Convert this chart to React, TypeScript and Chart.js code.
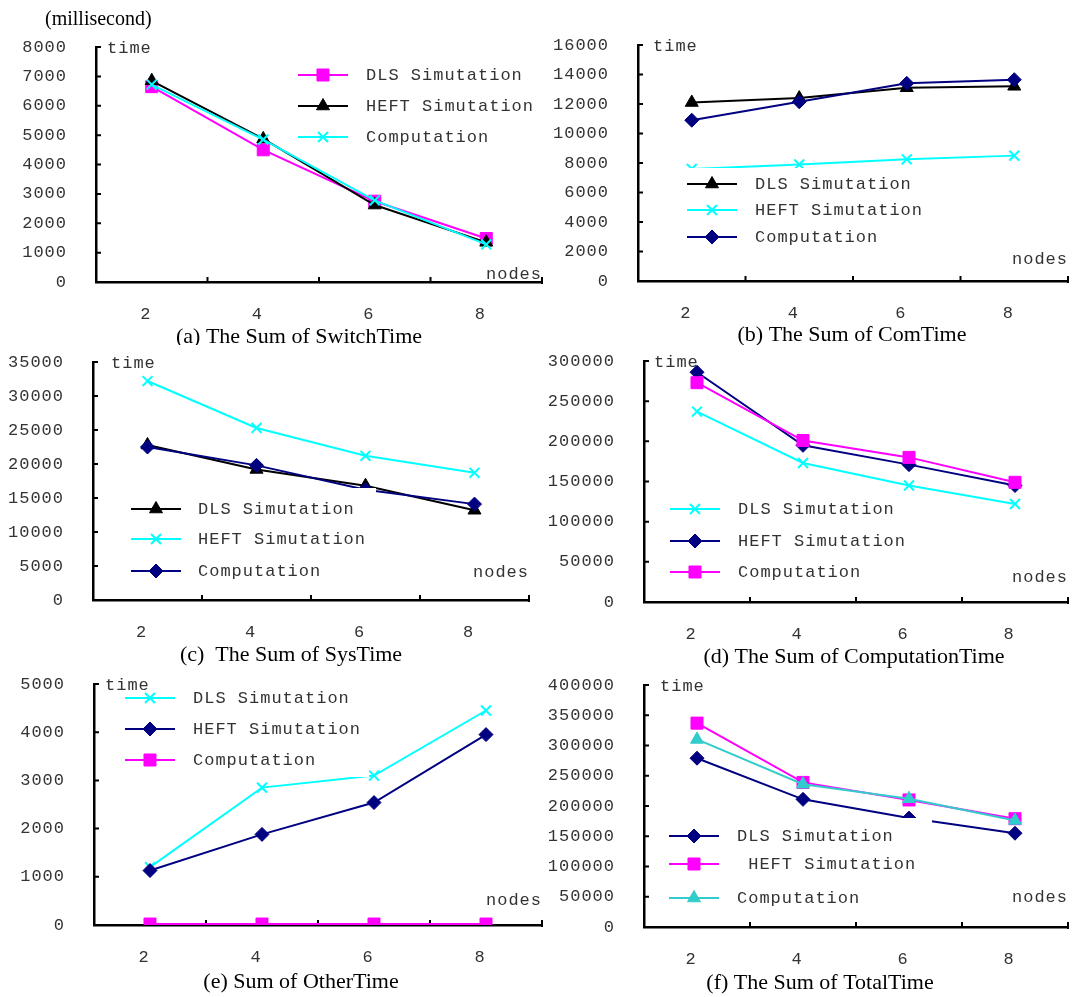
import React, { useEffect, useRef } from 'react';
import { Chart, registerables } from 'chart.js';

Chart.register(...registerables);

// ---------- data ----------
const nodeLabels = ['2', '4', '6', '8'];

const switchDLS = [6650, 4500, 2750, 1480];
const switchHEFT = [6850, 4870, 2620, 1350];
const switchComp = [6720, 4850, 2780, 1280];

const comDLS = [12100, 12400, 13100, 13200];
const comHEFT = [7600, 7900, 8250, 8500];
const comComp = [10900, 12150, 13400, 13650];

const sysDLS = [22800, 19200, 16800, 13200];
const sysHEFT = [32200, 25300, 21200, 18700];
const sysComp = [22500, 19800, 16200, 14100];

const compDLS = [237000, 173000, 145000, 122000];
const compHEFT = [286000, 195000, 171000, 145000];
const compComp = [273000, 201000, 180000, 149000];

const otherDLS = [1200, 2850, 3100, 4450];
const otherHEFT = [1130, 1880, 2540, 3950];
const otherComp = [20, 20, 20, 20];

const totalDLS = [279000, 211000, 180000, 155000];
const totalHEFT = [337000, 239000, 210000, 179000];
const totalComp = [310000, 236000, 212000, 176000];

const yMaxes = [8000, 16000, 35000, 300000, 5000, 400000];
const ySteps = [1000, 2000, 5000, 50000, 1000, 50000];

const titles = [
  '(a) The Sum of SwitchTime',
  '(b) The Sum of ComTime',
  '(c)  The Sum of SysTime',
  '(d) The Sum of ComputationTime',
  '(e) Sum of OtherTime',
  '(f) The Sum of TotalTime',
];

// ---------- styles ----------
const MAGENTA = '#FF00FF';
const BLACK = '#000000';
const CYAN = '#00FFFF';
const NAVY = '#000080';
const TEAL = '#33CCCC';
const TEXT = '#333333';
const MONO_FAMILY = "'Liberation Mono', monospace";
const MONO = "17px 'Liberation Mono', monospace";
const SERIF_TITLE = "22px 'Liberation Serif', serif";
const SERIF_UNIT = "20px 'Liberation Serif', serif";

type Mark = { style: string; radius: number };
const SQUARE: Mark = { style: 'rect', radius: 8.5 };
const TRI: Mark = { style: 'triangle', radius: 7.5 };
const XMARK: Mark = { style: 'crossRot', radius: 7 };
const DIAMOND: Mark = { style: 'rectRot', radius: 7 };

type Series = { name: string; data: number[]; color: string; mark: Mark };
type Panel = {
  key: string;
  region: [number, number, number, number];
  area: [number, number, number, number];
  series: Series[];
  legend: { lineX: number; textX: number; rows: number[]; box: [number, number, number, number] };
  timeX: number;
  nodesY: number;
  titleX: number;
  titleY: number;
  unit?: boolean;
};

const panels: Panel[] = [
  {
    key: 'a', region: [0, 0, 548, 345], area: [96, 47, 542, 282],
    series: [
      { name: 'DLS Simutation', data: switchDLS, color: MAGENTA, mark: SQUARE },
      { name: 'HEFT Simutation', data: switchHEFT, color: BLACK, mark: TRI },
      { name: 'Computation', data: switchComp, color: CYAN, mark: XMARK },
    ],
    legend: { lineX: 298, textX: 366, rows: [75, 106, 137], box: [292, 58, 540, 154] },
    timeX: 107, nodesY: 274, titleX: 299, titleY: 337, unit: true,
  },
  {
    key: 'b', region: [548, 0, 524, 345], area: [638, 45, 1068, 281],
    series: [
      { name: 'DLS Simutation', data: comDLS, color: BLACK, mark: TRI },
      { name: 'HEFT Simutation', data: comHEFT, color: CYAN, mark: XMARK },
      { name: 'Computation', data: comComp, color: NAVY, mark: DIAMOND },
    ],
    legend: { lineX: 687, textX: 755, rows: [184, 210, 237], box: [681, 168, 935, 254] },
    timeX: 653, nodesY: 259, titleX: 852, titleY: 335,
  },
  {
    key: 'c', region: [0, 345, 548, 323], area: [93, 362, 529, 600],
    series: [
      { name: 'DLS Simutation', data: sysDLS, color: BLACK, mark: TRI },
      { name: 'HEFT Simutation', data: sysHEFT, color: CYAN, mark: XMARK },
      { name: 'Computation', data: sysComp, color: NAVY, mark: DIAMOND },
    ],
    legend: { lineX: 131, textX: 198, rows: [509, 539, 571], box: [125, 488, 376, 590] },
    timeX: 111, nodesY: 572, titleX: 291, titleY: 655,
  },
  {
    key: 'd', region: [548, 345, 524, 323], area: [644, 361, 1068, 602],
    series: [
      { name: 'DLS Simutation', data: compDLS, color: CYAN, mark: XMARK },
      { name: 'HEFT Simutation', data: compHEFT, color: NAVY, mark: DIAMOND },
      { name: 'Computation', data: compComp, color: MAGENTA, mark: SQUARE },
    ],
    legend: { lineX: 670, textX: 738, rows: [509, 541, 572], box: [664, 491, 930, 590] },
    timeX: 654, nodesY: 577, titleX: 854, titleY: 657,
  },
  {
    key: 'e', region: [0, 668, 548, 329], area: [94, 684, 542, 925],
    series: [
      { name: 'DLS Simutation', data: otherDLS, color: CYAN, mark: XMARK },
      { name: 'HEFT Simutation', data: otherHEFT, color: NAVY, mark: DIAMOND },
      { name: 'Computation', data: otherComp, color: MAGENTA, mark: SQUARE },
    ],
    legend: { lineX: 125, textX: 193, rows: [698, 729, 760], box: [119, 680, 369, 777] },
    timeX: 105, nodesY: 900, titleX: 301, titleY: 982,
  },
  {
    key: 'f', region: [548, 668, 524, 329], area: [644, 685, 1068, 927],
    series: [
      { name: 'DLS Simutation', data: totalDLS, color: NAVY, mark: DIAMOND },
      { name: ' HEFT Simutation', data: totalHEFT, color: MAGENTA, mark: SQUARE },
      { name: 'Computation', data: totalComp, color: TEAL, mark: TRI },
    ],
    legend: { lineX: 669, textX: 737, rows: [836, 864, 898], box: [663, 818, 932, 915] },
    timeX: 660, nodesY: 897, titleX: 820, titleY: 983,
  },
];

function drawMarker(ctx: CanvasRenderingContext2D, mark: Mark, x: number, y: number, color: string) {
  const r = mark.radius;
  ctx.save();
  ctx.fillStyle = color;
  ctx.strokeStyle = color;
  ctx.beginPath();
  if (mark.style === 'rect') {
    const s = Math.SQRT1_2 * r;
    ctx.rect(x - s, y - s, 2 * s, 2 * s);
    ctx.lineWidth = 1;
    ctx.fill();
    ctx.stroke();
  } else if (mark.style === 'triangle') {
    let rad = 0;
    ctx.moveTo(x + Math.sin(rad) * r, y - Math.cos(rad) * r);
    rad += (2 * Math.PI) / 3;
    ctx.lineTo(x + Math.sin(rad) * r, y - Math.cos(rad) * r);
    rad += (2 * Math.PI) / 3;
    ctx.lineTo(x + Math.sin(rad) * r, y - Math.cos(rad) * r);
    ctx.closePath();
    ctx.lineWidth = 1;
    ctx.fill();
    ctx.stroke();
  } else if (mark.style === 'rectRot') {
    ctx.moveTo(x, y - r);
    ctx.lineTo(x + r, y);
    ctx.lineTo(x, y + r);
    ctx.lineTo(x - r, y);
    ctx.closePath();
    ctx.lineWidth = 1;
    ctx.fill();
    ctx.stroke();
  } else {
    const d = Math.SQRT1_2 * r;
    ctx.moveTo(x - d, y - d);
    ctx.lineTo(x + d, y + d);
    ctx.moveTo(x + d, y - d);
    ctx.lineTo(x - d, y + d);
    ctx.lineWidth = 2;
    ctx.stroke();
  }
  ctx.restore();
}

function makeChart(canvas: HTMLCanvasElement, p: Panel, idx: number) {
  const [rx, ry, rw, rh] = p.region;
  const [L, T, R, B] = p.area;

  const decor = {
    id: 'decor_' + p.key,
    beforeDraw(chart: any) {
      (chart.ctx as any).letterSpacing = '1px';
    },
    beforeDatasetsDraw(chart: any) {
      const ctx: CanvasRenderingContext2D = chart.ctx;
      const { left, right, bottom } = chart.chartArea;
      const ys = chart.scales.y;
      const xs = chart.scales.x;
      ctx.save();
      ctx.strokeStyle = '#000';
      ctx.lineWidth = 2;
      ctx.beginPath();
      ys.ticks.forEach((t: any) => {
        const y = ys.getPixelForValue(t.value);
        ctx.moveTo(left, y);
        ctx.lineTo(left + 5, y);
      });
      const n = xs.ticks.length;
      for (let i = 1; i < n; i++) {
        const x = (xs.getPixelForValue(i - 1) + xs.getPixelForValue(i)) / 2;
        ctx.moveTo(x, bottom);
        ctx.lineTo(x, bottom - 5);
      }
      ctx.moveTo(right, bottom + 2);
      ctx.lineTo(right, bottom - 5);
      ctx.stroke();
      ctx.restore();
    },
    afterDraw(chart: any) {
      const ctx: CanvasRenderingContext2D = chart.ctx;
      const lg = p.legend;
      ctx.save();
      (ctx as any).letterSpacing = '1px';
      // legend box
      const [bx1, by1, bx2, by2] = lg.box;
      ctx.fillStyle = '#ffffff';
      ctx.fillRect(bx1 - rx, by1 - ry, bx2 - bx1, by2 - by1);
      p.series.forEach((s, i) => {
        const y = lg.rows[i] - ry;
        const x0 = lg.lineX - rx;
        ctx.strokeStyle = s.color;
        ctx.lineWidth = 2;
        ctx.beginPath();
        ctx.moveTo(x0, y);
        ctx.lineTo(x0 + 50, y);
        ctx.stroke();
        drawMarker(ctx, s.mark, x0 + 25, y, s.color);
        ctx.fillStyle = TEXT;
        ctx.font = MONO;
        ctx.textAlign = 'left';
        ctx.textBaseline = 'middle';
        ctx.fillText(s.name, lg.textX - rx, y);
      });
      // axis captions
      ctx.fillStyle = TEXT;
      ctx.font = MONO;
      ctx.textBaseline = 'middle';
      ctx.textAlign = 'left';
      ctx.fillText('time', p.timeX - rx, T - ry + 1);
      ctx.textAlign = 'right';
      ctx.fillText('nodes', R - rx, p.nodesY - ry);
      // title
      (ctx as any).letterSpacing = '0px';
      ctx.fillStyle = '#000';
      ctx.font = SERIF_TITLE;
      ctx.textAlign = 'center';
      ctx.fillText(titles[idx], p.titleX - rx, p.titleY - ry);
      if (p.unit) {
        ctx.font = SERIF_UNIT;
        ctx.textAlign = 'left';
        ctx.fillText('(millisecond)', 45 - rx, 20 - ry);
      }
      ctx.restore();
    },
  };

  const n = p.series.length;
  return new Chart(canvas, {
    type: 'line',
    data: {
      labels: nodeLabels,
      datasets: p.series.map((s, i) => ({
        label: s.name,
        data: s.data,
        borderColor: s.color,
        backgroundColor: s.color,
        borderWidth: 2,
        tension: 0,
        pointStyle: s.mark.style as any,
        pointRadius: s.mark.radius,
        pointBorderWidth: s.mark.style === 'crossRot' ? 2 : 1,
        pointBackgroundColor: s.color,
        pointBorderColor: s.color,
        order: n - 1 - i,
      })),
    },
    options: {
      animation: false,
      responsive: false,
      maintainAspectRatio: false,
      devicePixelRatio: 1,
      layout: {
        autoPadding: false,
        padding: { left: 0, top: T - ry, right: rx + rw - R, bottom: 0 },
      },
      plugins: {
        legend: { display: false },
        tooltip: { enabled: false },
        title: { display: false },
      },
      scales: {
        x: {
          type: 'category',
          offset: true,
          grid: { display: false, drawTicks: true, tickLength: 22 },
          border: { display: true, color: '#000', width: 2.5 },
          ticks: {
            font: { family: MONO_FAMILY, size: 17 },
            color: TEXT,
            padding: 0,
            labelOffset: -6,
            maxRotation: 0,
            autoSkip: false,
          },
          afterFit: (s: any) => {
            s.height = ry + rh - B;
          },
        },
        y: {
          min: 0,
          max: yMaxes[idx],
          grid: { display: false, drawTicks: true, tickLength: 29 },
          border: { display: true, color: '#000', width: 2.5 },
          ticks: {
            stepSize: ySteps[idx],
            font: { family: MONO_FAMILY, size: 17 },
            color: TEXT,
            padding: 0,
            callback: (v: any) => String(v),
          },
          afterFit: (s: any) => {
            s.width = L - rx;
          },
        },
      },
    } as any,
    plugins: [decor],
  });
}

export default function App() {
  const refs = useRef<(HTMLCanvasElement | null)[]>([]);
  useEffect(() => {
    const charts = panels.map((p, i) => makeChart(refs.current[i] as HTMLCanvasElement, p, i));
    return () => charts.forEach((c) => c.destroy());
  }, []);
  return (
    <div
      style={{
        position: 'absolute',
        left: 0,
        top: 0,
        width: 1072,
        height: 997,
        background: '#ffffff',
        overflow: 'hidden',
      }}
    >
      {panels.map((p, i) => (
        <canvas
          key={p.key}
          ref={(el) => {
            refs.current[i] = el;
          }}
          width={p.region[2]}
          height={p.region[3]}
          style={{
            position: 'absolute',
            left: p.region[0],
            top: p.region[1],
            width: p.region[2],
            height: p.region[3],
          }}
        />
      ))}
    </div>
  );
}
